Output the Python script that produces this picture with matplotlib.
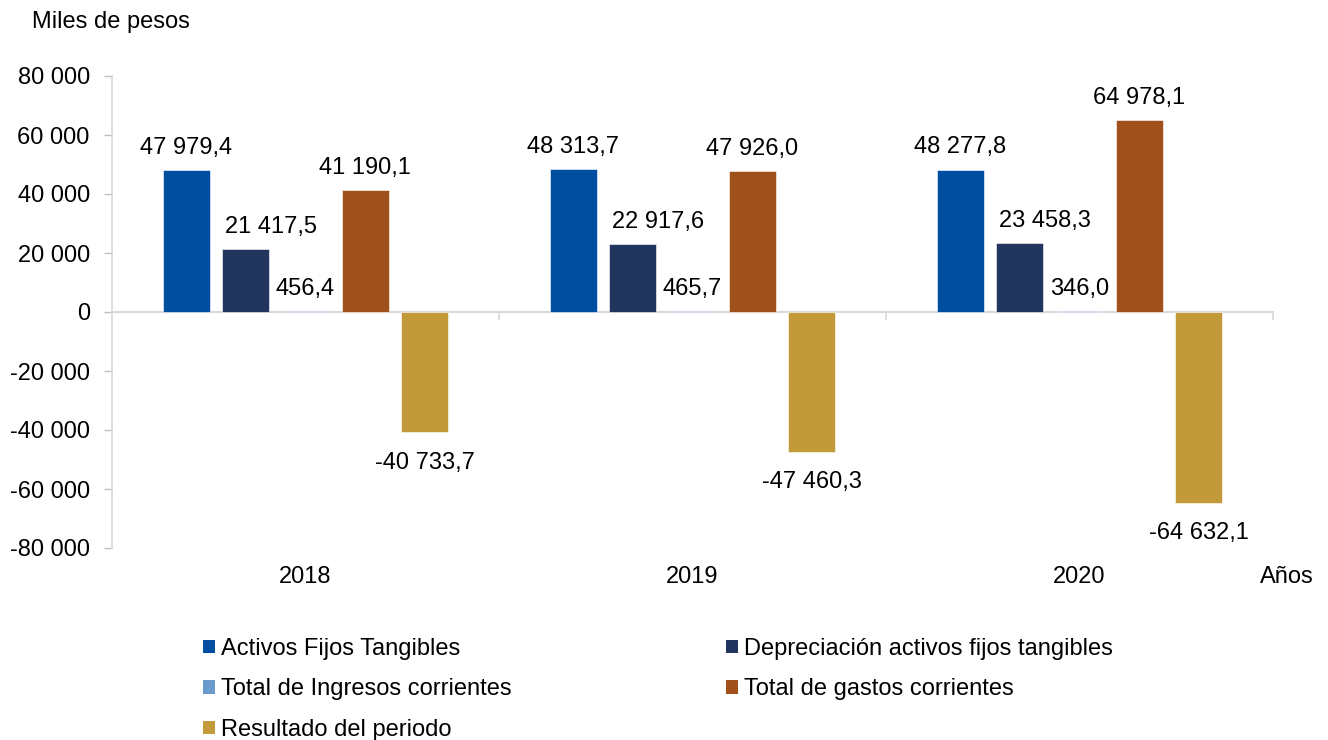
import matplotlib
matplotlib.use("Agg")
import matplotlib.pyplot as plt
from matplotlib.patches import Patch
from matplotlib.ticker import FixedLocator, FuncFormatter
import numpy as np

plt.rcParams['font.family'] = ['Liberation Sans', 'DejaVu Sans']

years = ["2018", "2019", "2020"]
series_names = ["Activos Fijos Tangibles", "Depreciación activos fijos tangibles",
                "Total de Ingresos corrientes", "Total de gastos corrientes",
                "Resultado del periodo"]
activos = [47979.4, 48313.7, 48277.8]
depreciacion = [21417.5, 22917.6, 23458.3]
ingresos = [456.4, 465.7, 346.0]
gastos = [41190.1, 47926.0, 64978.1]
resultado = [-40733.7, -47460.3, -64632.1]
series_values = [activos, depreciacion, ingresos, gastos, resultado]
colors = ["#004E9F", "#22355E", "#6B9BCC", "#A0501B", "#C39A39"]
yticks = [-80000, -60000, -40000, -20000, 0, 20000, 40000, 60000, 80000]

def fmt_num(v, dec=1):
    s = f"{abs(v):,.{dec}f}".replace(",", " ").replace(".", ",")
    return ("-" if v < 0 else "") + s

fig = plt.figure(figsize=(13.28, 7.40), dpi=100)
ax = fig.add_axes([112/1328, 1-548/740, (1273-112)/1328, (548-76)/740])

fs = 17
x = np.arange(len(years))
step = 0.154
width = 0.121
label_dx = [0, 18, 0, 0, 0]
for i, (name, vals, c) in enumerate(zip(series_names, series_values, colors)):
    pos = x + (i - 2) * step
    bars = ax.bar(pos, vals, width, color=c, edgecolor='white', linewidth=0.4, label=name, zorder=3)
    for b, v in zip(bars, vals):
        if v >= 0:
            ax.annotate(fmt_num(v), (b.get_x() + b.get_width()/2, v), xytext=(label_dx[i], 8),
                        textcoords='offset points', ha='center', va='bottom', fontsize=fs)
        else:
            ax.annotate(fmt_num(v), (b.get_x() + b.get_width()/2, v), xytext=(label_dx[i], -14),
                        textcoords='offset points', ha='center', va='top', fontsize=fs)

ax.set_xlim(-0.5, 2.5)
ax.set_ylim(-80000, 80000)
ax.yaxis.set_major_locator(FixedLocator(yticks))
ax.yaxis.set_major_formatter(FuncFormatter(lambda v, p: fmt_num(v, 0)))
ax.tick_params(axis='y', labelsize=fs, color='#BFBFBF', length=6, width=1, pad=10)

for s in ['top', 'right']:
    ax.spines[s].set_visible(False)
ax.spines['left'].set_color('#D9D9D9')
ax.spines['left'].set_linewidth(1.2)
ax.spines['bottom'].set_position(('data', 0))
ax.spines['bottom'].set_color('#D9D9D9')
ax.spines['bottom'].set_linewidth(1.5)
ax.spines['bottom'].set_zorder(2)
ax.set_xticks([])
ax.set_xticks([0.5, 1.5, 2.5], minor=True)
ax.tick_params(axis='x', which='minor', length=6, color='#D9D9D9', width=1.2, direction='out')
ax.tick_params(axis='x', which='major', length=0)

for xi, y in zip(x, years):
    ax.text(xi, -0.0614, y, transform=ax.get_xaxis_transform(), ha='center', va='center', fontsize=fs)
ax.text(2.466, -0.0614, "Años", transform=ax.get_xaxis_transform(), ha='left', va='center', fontsize=fs)

fig.text(32/1328, 1-22/740, "Miles de pesos", ha='left', va='center', fontsize=fs)

handles = [Patch(facecolor=c, edgecolor='none') for c in colors]
order = [0, 2, 4, 1, 3]
fig.legend([handles[i] for i in order], [series_names[i] for i in order],
           loc='upper left', bbox_to_anchor=(203/1328, 1-638/740), ncol=2,
           frameon=False, fontsize=fs, handlelength=0.5, handleheight=0.5,
           handletextpad=0.25, columnspacing=9.1, labelspacing=0.78,
           borderpad=0, borderaxespad=0)

fig.savefig("out.png", dpi=100)
